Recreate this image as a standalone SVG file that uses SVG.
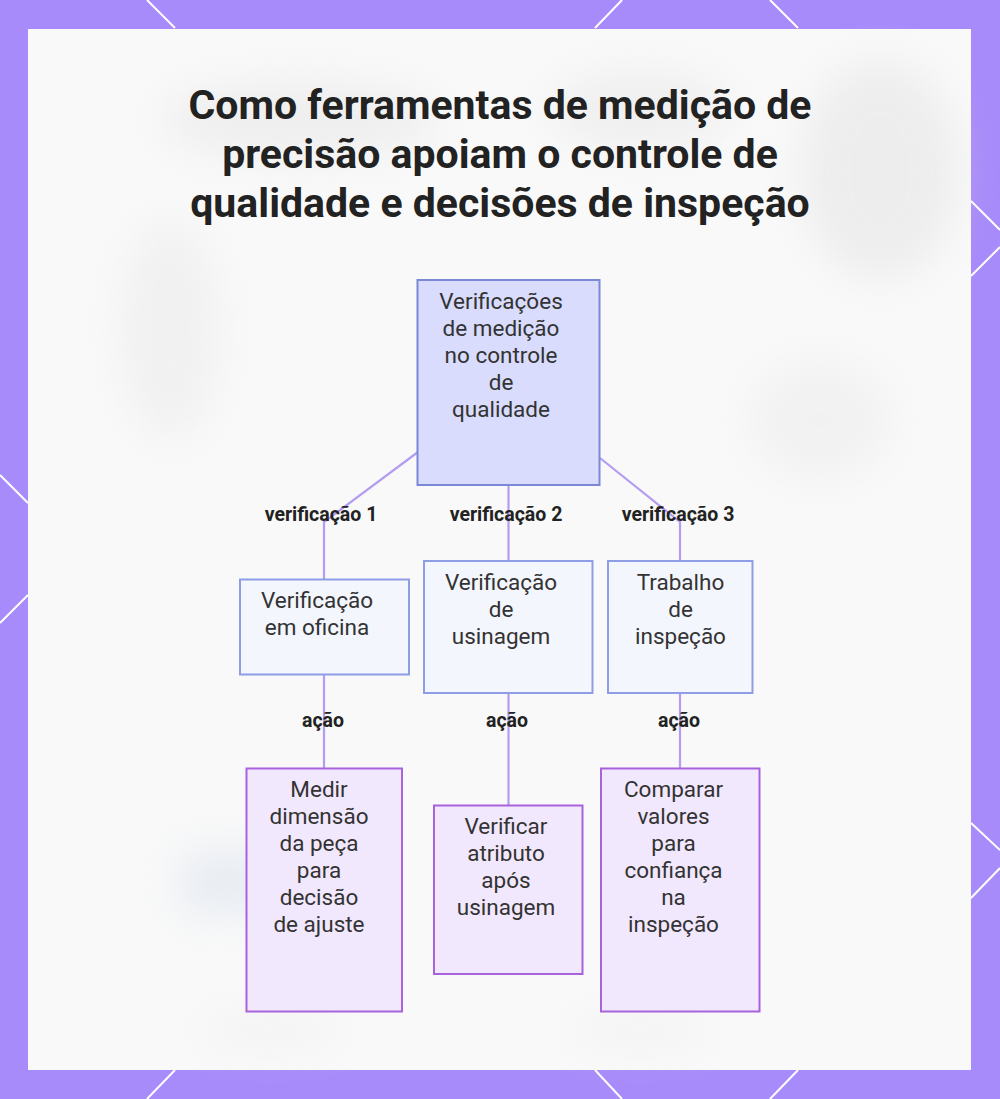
<svg xmlns="http://www.w3.org/2000/svg" width="1000" height="1099" viewBox="0 0 1000 1099">
  <defs>
    <filter id="blur" x="-50%" y="-50%" width="200%" height="200%">
      <feGaussianBlur stdDeviation="20"/>
    </filter>
    <style>
      .title { font-family: Roboto, "Liberation Sans", sans-serif; font-weight: 700; font-size: 41px; fill: #222222; text-anchor: middle; }
      .ntext { font-family: Roboto, "Liberation Sans", sans-serif; font-size: 22.5px; fill: #333333; text-anchor: middle; }
      .elabel { font-family: Roboto, "Liberation Sans", sans-serif; font-weight: 700; font-size: 19.5px; fill: #222222; text-anchor: middle; }
      .root { fill: #d9dcfc; stroke: #7b88d8; stroke-width: 2; }
      .mid { fill: #f4f6fe; stroke: #8d9de6; stroke-width: 2; }
      .leaf { fill: #f2e8fd; stroke: #a862dc; stroke-width: 2; }
      .edge { fill: none; stroke: #b49cf2; stroke-width: 2.2; }
      .deco { stroke: #ffffff; stroke-width: 2; fill: none; }
    </style>
  </defs>

  <!-- frame -->
  <rect x="0" y="0" width="1000" height="1099" fill="#a78bfa"/>
  <g class="deco">
    <line x1="147" y1="0" x2="175" y2="28"/>
    <line x1="622" y1="0" x2="595" y2="28"/>
    <line x1="770" y1="0" x2="798" y2="28"/>
    <line x1="175" y1="1070" x2="147" y2="1099"/>
    <line x1="595" y1="1070" x2="622" y2="1099"/>
    <line x1="798" y1="1070" x2="770" y2="1099"/>
    <line x1="0" y1="475" x2="28" y2="503"/>
    <line x1="28" y1="595" x2="0" y2="623"/>
    <line x1="971" y1="201" x2="1000" y2="230"/>
    <line x1="1000" y1="247" x2="971" y2="276"/>
    <line x1="971" y1="823" x2="1000" y2="850"/>
    <line x1="1000" y1="868" x2="971" y2="898"/>
  </g>
  <rect x="28" y="29" width="943" height="1041" fill="#f9f9f9"/>
  <!-- blurred background -->
  <g filter="url(#blur)" opacity="0.35">
    <ellipse cx="300" cy="120" rx="140" ry="40" fill="#dcdcdc"/>
    <ellipse cx="640" cy="110" rx="90" ry="40" fill="#dedede"/>
    <ellipse cx="880" cy="170" rx="80" ry="110" fill="#d8d8d8"/>
    <ellipse cx="170" cy="330" rx="50" ry="110" fill="#e2e2e2"/>
    <ellipse cx="820" cy="420" rx="70" ry="60" fill="#e4e4e4"/>
    <rect x="180" y="850" width="110" height="65" fill="#c9d6e6"/>
    <ellipse cx="270" cy="1030" rx="70" ry="15" fill="#e4e4e4"/>
    <ellipse cx="640" cy="1030" rx="70" ry="15" fill="#e4e4e4"/>
  </g>

  <!-- title -->
  <g id="title">
    <text class="title" x="500" y="119">Como ferramentas de medição de</text>
    <text class="title" x="500" y="168">precisão apoiam o controle de</text>
    <text class="title" x="500" y="217">qualidade e decisões de inspeção</text>
  </g>

  <!-- connectors -->
  <g id="connectors">
    <path class="edge" d="M418,452 L324,522 L324,579"/>
    <path class="edge" d="M508.5,486 L508.5,561"/>
    <path class="edge" d="M600,458 L680,522 L680,561"/>
    <path class="edge" d="M324,674 L324,768"/>
    <path class="edge" d="M508.5,693 L508.5,805"/>
    <path class="edge" d="M680,693 L680,768"/>
    <text class="elabel" x="321" y="521">verificação 1</text>
    <text class="elabel" x="506" y="521">verificação 2</text>
    <text class="elabel" x="678" y="521">verificação 3</text>
    <text class="elabel" x="323" y="727">ação</text>
    <text class="elabel" x="507" y="727">ação</text>
    <text class="elabel" x="679" y="727">ação</text>
  </g>

  <!-- nodes -->
  <g id="root">
    <rect class="root" x="417.5" y="280" width="182" height="205"/>
    <text class="ntext" x="501" y="309">Verificações</text>
    <text class="ntext" x="501" y="336">de medição</text>
    <text class="ntext" x="501" y="363">no controle</text>
    <text class="ntext" x="501" y="390">de</text>
    <text class="ntext" x="501" y="417">qualidade</text>
  </g>
  <g id="shop">
    <rect class="mid" x="240" y="579.5" width="169" height="95"/>
    <text class="ntext" x="317" y="608">Verificação</text>
    <text class="ntext" x="317" y="635">em oficina</text>
  </g>
  <g id="machining">
    <rect class="mid" x="424" y="561" width="168.5" height="132"/>
    <text class="ntext" x="501" y="590">Verificação</text>
    <text class="ntext" x="501" y="617">de</text>
    <text class="ntext" x="501" y="644">usinagem</text>
  </g>
  <g id="inspection">
    <rect class="mid" x="608" y="561" width="144.5" height="132"/>
    <text class="ntext" x="680.5" y="590">Trabalho</text>
    <text class="ntext" x="680.5" y="617">de</text>
    <text class="ntext" x="680.5" y="644">inspeção</text>
  </g>
  <g id="measure">
    <rect class="leaf" x="246.5" y="768.5" width="155.5" height="243"/>
    <text class="ntext" x="319" y="797">Medir</text>
    <text class="ntext" x="319" y="824">dimensão</text>
    <text class="ntext" x="319" y="851">da peça</text>
    <text class="ntext" x="319" y="878">para</text>
    <text class="ntext" x="319" y="905">decisão</text>
    <text class="ntext" x="319" y="932">de ajuste</text>
  </g>
  <g id="verify">
    <rect class="leaf" x="434" y="805.5" width="148.5" height="168.5"/>
    <text class="ntext" x="506" y="834">Verificar</text>
    <text class="ntext" x="506" y="861">atributo</text>
    <text class="ntext" x="506" y="888">após</text>
    <text class="ntext" x="506" y="915">usinagem</text>
  </g>
  <g id="compare">
    <rect class="leaf" x="601" y="768.5" width="158.5" height="243"/>
    <text class="ntext" x="673.5" y="797">Comparar</text>
    <text class="ntext" x="673.5" y="824">valores</text>
    <text class="ntext" x="673.5" y="851">para</text>
    <text class="ntext" x="673.5" y="878">confiança</text>
    <text class="ntext" x="673.5" y="905">na</text>
    <text class="ntext" x="673.5" y="932">inspeção</text>
  </g>
</svg>
